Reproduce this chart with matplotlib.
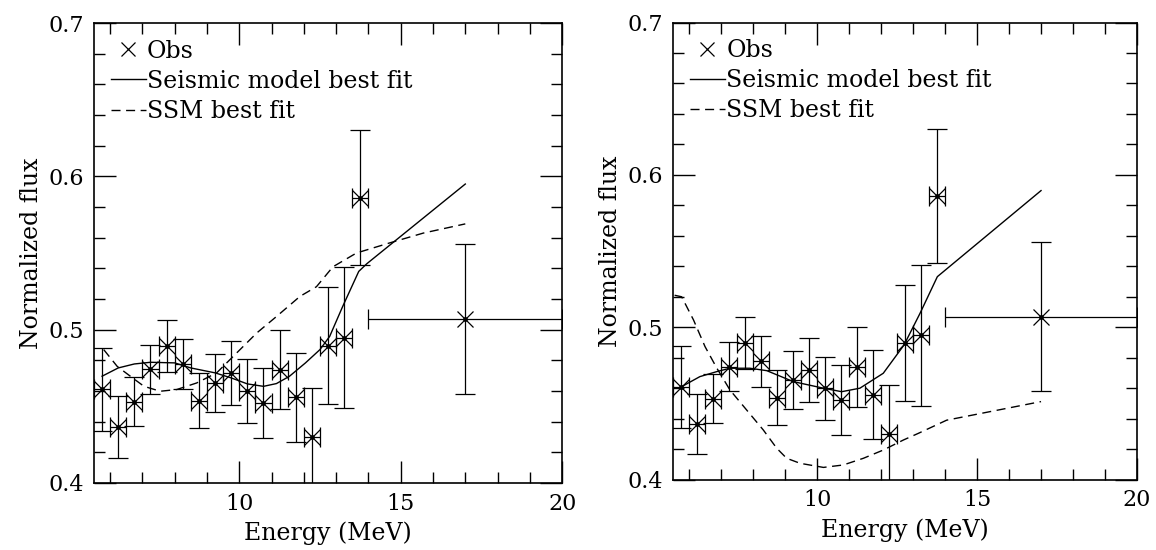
import matplotlib
matplotlib.use('Agg')
from matplotlib import pyplot as plt
from matplotlib.lines import Line2D
from matplotlib.ticker import MultipleLocator, FormatStrFormatter

# observed spectrum (same data on both panels)
energy = [5.75, 6.25, 6.75, 7.25, 7.75, 8.25, 8.75, 9.25, 9.75, 10.25,
          10.75, 11.25, 11.75, 12.25, 12.75, 13.25, 13.75, 17.0]
energy_err = [0.25] * 17 + [3.0]
flux = [0.461, 0.4365, 0.453, 0.474, 0.4896, 0.4776, 0.4537, 0.4652, 0.4718, 0.4598,
        0.4522, 0.4739, 0.4558, 0.430, 0.4896, 0.4946, 0.586, 0.507]
flux_err = [0.027, 0.020, 0.016, 0.016, 0.017, 0.0165, 0.018, 0.019, 0.021, 0.021,
            0.023, 0.026, 0.029, 0.032, 0.038, 0.046, 0.044, 0.049]

# left panel fits
left_seismic_e = [5.75, 6.25, 6.75, 7.25, 8.0, 8.5, 9.25, 9.75, 10.25, 10.75,
                  11.15, 11.55, 12.05, 12.5, 12.8, 13.2, 13.7, 13.95, 17.0]
left_seismic_f = [0.4696, 0.475, 0.4776, 0.4787, 0.4783, 0.475, 0.4718, 0.4685, 0.4646, 0.463,
                  0.4648, 0.4695, 0.4783, 0.487, 0.4956, 0.515, 0.538, 0.543, 0.595]
left_ssm_e = [5.8, 6.22, 6.74, 7.05, 7.55, 8.06, 8.68, 9.3, 9.92, 10.54,
              11.16, 11.88, 12.39, 12.9, 13.63, 14.66, 15.7, 17.0]
left_ssm_f = [0.487, 0.476, 0.4678, 0.463, 0.4598, 0.4609, 0.4652, 0.4718, 0.4848, 0.4978,
              0.5087, 0.5217, 0.528, 0.541, 0.550, 0.5566, 0.563, 0.569]

# right panel fits
right_seismic_e = [5.77, 6.34, 6.87, 7.28, 7.9, 8.43, 9.26, 10.2, 10.77, 11.34,
                   12.07, 12.72, 13.22, 13.76, 17.0]
right_seismic_f = [0.461, 0.4676, 0.4709, 0.4731, 0.4731, 0.4715, 0.4643, 0.46, 0.4577, 0.46,
                   0.4698, 0.4884, 0.5092, 0.5332, 0.5897]
right_ssm_e = [5.55, 5.77, 6.14, 6.5, 6.87, 7.28, 7.8, 8.32, 8.74, 9.05,
               9.47, 10.2, 10.82, 11.45, 12.07, 12.7, 13.17, 14.05, 17.0]
right_ssm_f = [0.521, 0.520, 0.5048, 0.4873, 0.4731, 0.4588, 0.4457, 0.4326, 0.4206, 0.414,
               0.4107, 0.408, 0.4096, 0.414, 0.4194, 0.426, 0.4304, 0.439, 0.4512]

legend_labels = ['Obs', 'Seismic model best fit', 'SSM best fit']

plt.rcParams['font.family'] = 'DejaVu Serif'
plt.rcParams['font.size'] = 16

DASH = (6.5, 4)


def draw_panel(ax, seismic_e, seismic_f, ssm_e, ssm_f):
    ax.errorbar(energy, flux, xerr=energy_err, yerr=flux_err, fmt='x', color='black',
                ms=11, mew=0.9, elinewidth=0.9, capsize=7, capthick=0.9)
    ax.plot(energy, flux, '.', color='black', ms=5)
    ax.plot(seismic_e, seismic_f, '-', color='black', lw=1.0)
    ax.plot(ssm_e, ssm_f, '--', color='black', lw=1.0, dashes=DASH)

    ax.set_xlim(5.5, 20)
    ax.set_ylim(0.4, 0.7)
    ax.xaxis.set_major_locator(MultipleLocator(5))
    ax.xaxis.set_minor_locator(MultipleLocator(1))
    ax.yaxis.set_major_locator(MultipleLocator(0.1))
    ax.yaxis.set_minor_locator(MultipleLocator(0.02))
    ax.tick_params(which='both', direction='in', top=True, right=True, width=1.0)
    ax.tick_params(which='major', length=16, pad=7, labelsize=16)
    ax.tick_params(which='minor', length=8)
    ax.xaxis.set_major_formatter(FormatStrFormatter('%g'))
    ax.yaxis.set_major_formatter(FormatStrFormatter('%.1f'))
    for s in ax.spines.values():
        s.set_linewidth(1.2)

    ax.set_xlabel('Energy (MeV)', fontsize=17, labelpad=5)
    ax.set_ylabel('Normalized flux', fontsize=17, labelpad=4)

    handles = [Line2D([], [], ls='none', marker='x', color='black', ms=10, mew=0.9),
               Line2D([], [], ls='-', color='black', lw=1.0),
               Line2D([], [], ls='--', color='black', lw=1.0, dashes=DASH)]
    ax.legend(handles, legend_labels, loc='upper left', frameon=False,
              handlelength=1.5, handletextpad=0.05, labelspacing=0.3,
              borderaxespad=0.3, fontsize=17)


def main():
    fig = plt.figure(figsize=(11.56, 5.5), dpi=100)
    ax1 = fig.add_axes([0.0813, 0.122, 0.405, 0.836])
    ax2 = fig.add_axes([0.5822, 0.128, 0.4014, 0.831])

    draw_panel(ax1, left_seismic_e, left_seismic_f, left_ssm_e, left_ssm_f)
    draw_panel(ax2, right_seismic_e, right_seismic_f, right_ssm_e, right_ssm_f)

    fig.savefig('out.png', dpi=100)
    plt.close()


if __name__ == '__main__':
    main()
